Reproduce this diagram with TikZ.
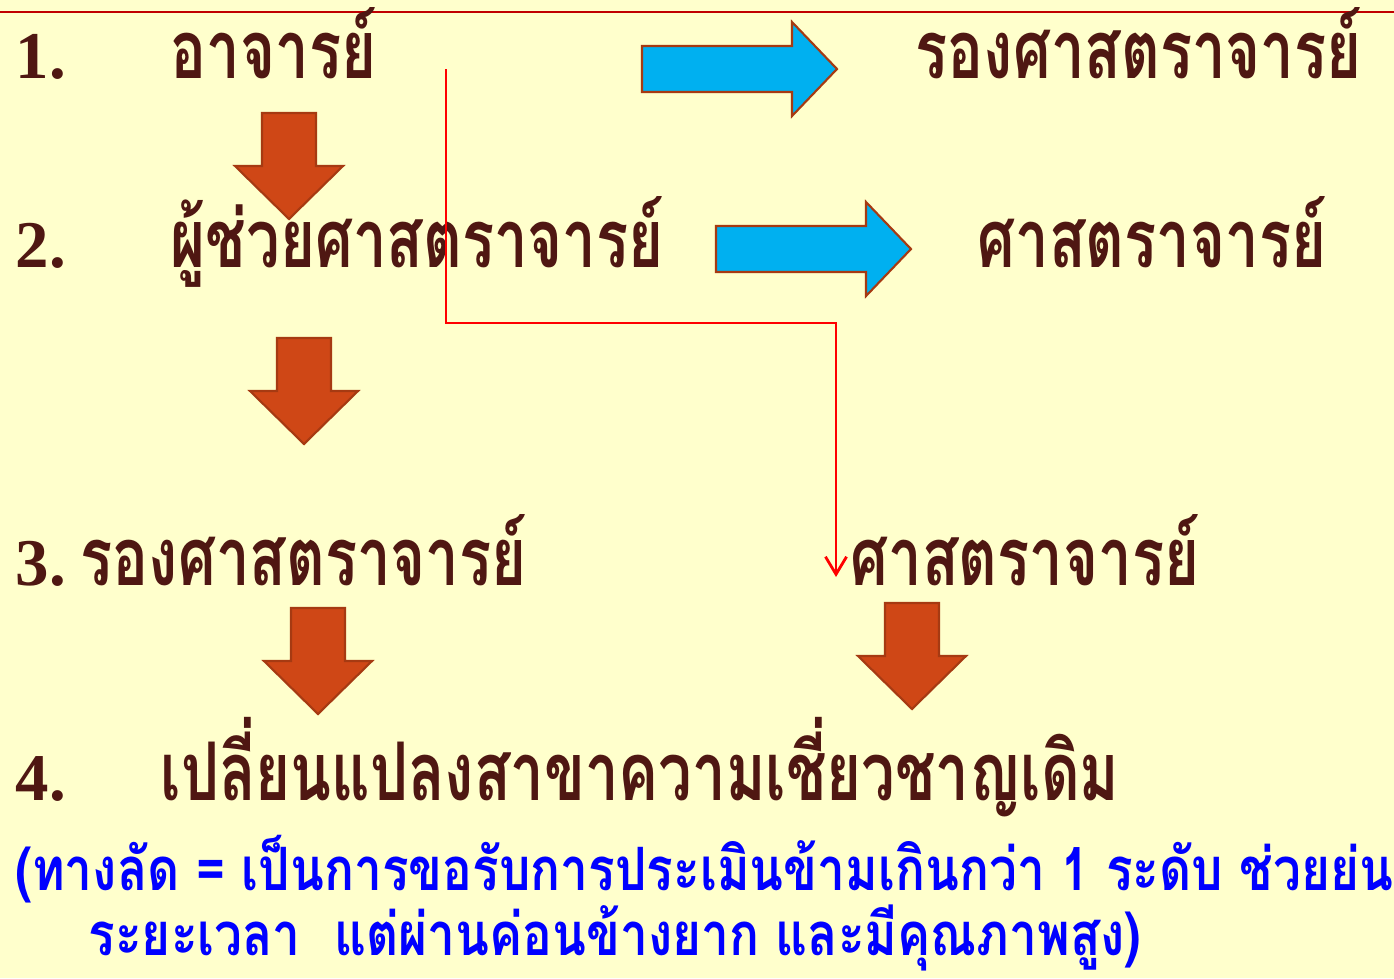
\documentclass[tikz,border=0pt]{standalone}
\usepackage{fontspec}
\newfontfamily\thaifont[Script=Thai,FakeStretch=0.74]{Loma}
\newfontfamily\notefont[Script=Thai,FakeStretch=0.83]{Loma}
\newfontfamily\numfont{Liberation Serif}
\usetikzlibrary{arrows.meta}

\definecolor{pagebg}{HTML}{FFFFCC}
\definecolor{rankbrown}{HTML}{4F1712}
\definecolor{downfill}{HTML}{CF4716}
\definecolor{edgebrown}{HTML}{A63A12}
\definecolor{rightfill}{HTML}{00B0F0}
\definecolor{noteblue}{HTML}{0000FF}
\definecolor{topline}{HTML}{C00000}

\tikzset{
  rank/.style={anchor=base west, inner sep=0pt, text=rankbrown,
    font=\thaifont\bfseries\fontsize{23}{27}\selectfont},
  num/.style={anchor=base west, inner sep=0pt, text=rankbrown,
    font=\numfont\bfseries\fontsize{19}{22}\selectfont},
  note/.style={anchor=base west, inner sep=0pt, text=noteblue,
    font=\notefont\bfseries\fontsize{17}{20}\selectfont},
  pics/downarrow/.style={code={
    \draw[fill=downfill, draw=edgebrown, line width=0.6pt]
      (-27,0) -- (27,0) -- (27,53) -- (54,53) -- (0,106) -- (-54,53) -- (-27,53) -- cycle;}},
  pics/rightarrow/.style={code={
    \draw[fill=rightfill, draw=edgebrown, line width=0.6pt]
      (0,-23) -- (150,-23) -- (150,-47) -- (195,0) -- (150,47) -- (150,23) -- (0,23) -- cycle;}},
  shortcut/.style={draw=red, line width=0.8pt, -{Straight Barb[length=5pt,width=6pt]}}
}

\begin{document}
\begin{tikzpicture}[x=0.01cm, y=-0.01cm]
% page
\fill[pagebg] (0,0) rectangle (1394,978);
\useasboundingbox (0,0) rectangle (1394,978);
\draw[topline, line width=0.6pt] (0,12) -- (1394,12);

% row numbers
\node[num] (n1) at (15,78) {1.};
\node[num] (n2) at (15,267) {2.};
\node[num] (n3) at (15,585) {3.};
\node[num] (n4) at (15,800) {4.};

% ranks
\node[rank] (lect) at (170,78) {อาจารย์};
\node[rank] (assoc1) at (915,78) {รองศาสตราจารย์};
\node[rank] (asst) at (170,267) {ผู้ช่วยศาสตราจารย์};
\node[rank] (prof2) at (977,267) {ศาสตราจารย์};
\node[rank] (assoc3) at (80,585) {รองศาสตราจารย์};
\node[rank] (prof3) at (850,585) {ศาสตราจารย์};
\node[rank] (change) at (160,800) {เปลี่ยนแปลงสาขาความเชี่ยวชาญเดิม};

% block arrows
\pic at (642,69) {rightarrow};
\pic at (716,249) {rightarrow};
\pic at (289,113) {downarrow};
\pic at (304,338) {downarrow};
\pic at (318,608) {downarrow};
\pic at (912,603) {downarrow};

% shortcut line
\coordinate (jump) at (446,69);
\coordinate (elbow) at (836,323);
\coordinate (land) at (836,577);
\draw[shortcut] (jump) |- (elbow) -- (land);

% note
\node[note] (note1) at (15,890) {(ทางลัด = เป็นการขอรับการประเมินข้ามเกินกว่า 1 ระดับ ช่วยย่น};
\node[note] (note2) at (88,955) {ระยะเวลา\ \ แต่ผ่านค่อนข้างยาก และมีคุณภาพสูง)};
\end{tikzpicture}
\end{document}
